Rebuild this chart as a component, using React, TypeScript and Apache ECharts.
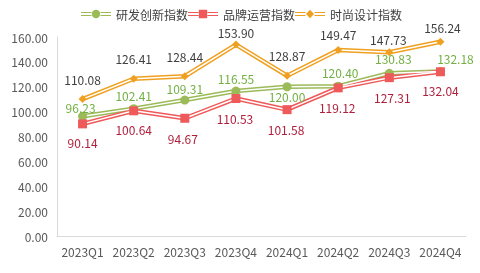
import React, { useEffect, useRef } from "react";
import * as echarts from "echarts";

const categories = ["2023Q1", "2023Q2", "2023Q3", "2023Q4", "2024Q1", "2024Q2", "2024Q3", "2024Q4"];
const rdIndex = [96.23, 102.41, 109.31, 116.55, 120.0, 120.4, 130.83, 132.18];
const brandIndex = [90.14, 100.64, 94.67, 110.53, 101.58, 119.12, 127.31, 132.04];
const fashionIndex = [110.08, 126.41, 128.44, 153.9, 128.87, 149.47, 147.73, 156.24];
const seriesNames = ["研发创新指数", "品牌运营指数", "时尚设计指数"];

// label placement per point (position, distance, horizontal offset)
const rdLabelPos = ["top", "top", "top", "top", "bottom", "top", "top", "top"];
const rdLabelDist = [-2, 2.5, 1, 2, -1, 3, 4, 2.5];
const rdLabelDx = [-2, 0, 0, 0, 0, 2, 4, 15];
const brandLabelDist = [8.5, 8.5, 9.5, 9.5, 9.5, 9, 9, 8.5];
const brandLabelDx = [0, 0, -2, -1, -1, -1, 3, 0];
const fashionLabelDist = [10, 10, 10, 2.5, 10, 6, 3, 4.5];
const fashionLabelDx = [0, 0, 0, 0, 0, 0, -1, 2];

const FONT = "'Noto Sans CJK SC', 'Noto Sans', sans-serif";

const BARS = "M0 2.6 H10.5 V3.6 H0 Z M0 5.4 H10.5 V6.4 H0 Z M19.5 2.6 H30 V3.6 H19.5 Z M19.5 5.4 H30 V6.4 H19.5 Z ";
const ICONS = [
  "path://" + BARS + "M10.8 4.5 A4.2 4.2 0 1 1 19.2 4.5 A4.2 4.2 0 1 1 10.8 4.5 Z M0 0 Z M30 9 Z",
  "path://" + BARS + "M10.8 0.3 H19.2 V8.7 H10.8 Z M0 0 Z M30 9 Z",
  "path://" + BARS + "M15 0.3 L19 4.5 L15 8.7 L11 4.5 Z M0 0 Z M30 9 Z",
];

export default function App() {
  const ref = useRef<HTMLDivElement>(null);
  useEffect(() => {
    if (!ref.current) return;
    const chart = echarts.init(ref.current, undefined, { renderer: "svg" });
    const defs = [
      { name: seriesNames[0], data: rdIndex, color: "#9BBB59", labelColor: "#72B043", symbol: "circle", size: 9, pos: rdLabelPos, dist: rdLabelDist, dx: rdLabelDx },
      { name: seriesNames[1], data: brandIndex, color: "#EE5A5A", labelColor: "#B0203C", symbol: "rect", size: 9, pos: brandIndex.map(() => "bottom"), dist: brandLabelDist, dx: brandLabelDx },
      { name: seriesNames[2], data: fashionIndex, color: "#F0A020", labelColor: "#404040", symbol: "diamond", size: 8, pos: fashionIndex.map(() => "top"), dist: fashionLabelDist, dx: fashionLabelDx },
    ];
    const series: any[] = [];
    defs.forEach((d, i) => {
      series.push({
        type: "line",
        name: "line" + i,
        data: d.data,
        symbol: "none",
        silent: true,
        z: 2,
        lineStyle: { color: d.color, width: 4.5 },
      });
      series.push({
        type: "line",
        name: "white" + i,
        data: d.data,
        symbol: "none",
        silent: true,
        z: 3,
        lineStyle: { color: "#ffffff", width: 1.5 },
      });
      series.push({
        type: "line",
        name: d.name,
        data: d.data.map((v, j) => ({
          value: v,
          label: { position: d.pos[j], distance: d.dist[j], offset: [d.dx[j], 0] },
        })),
        symbol: d.symbol,
        symbolSize: d.size,
        z: 4,
        itemStyle: { color: d.color },
        lineStyle: { width: 0, color: d.color },
        label: {
          show: true,
          color: d.labelColor,
          fontSize: 12,
          fontFamily: FONT,
          formatter: (p: any) => Number(p.value).toFixed(2),
        },
      });
    });
    chart.setOption({
      animation: false,
      textStyle: { fontFamily: FONT },
      legend: {
        top: 8,
        left: 81,
        padding: 0,
        itemWidth: 30,
        itemHeight: 9,
        itemGap: 0,
        symbolKeepAspect: false,
        textStyle: { color: "#404040", fontSize: 12, fontFamily: FONT },
        data: defs.map((d, i) => ({
          name: d.name,
          icon: ICONS[i],
          itemStyle: { color: d.color },
        })),
      },
      grid: { left: 57, right: 14, top: 37, bottom: 37 },
      xAxis: {
        type: "category",
        data: categories,
        boundaryGap: true,
        axisLine: { lineStyle: { color: "#D9D9D9" } },
        axisTick: { show: false },
        axisLabel: { color: "#595959", fontSize: 12, fontFamily: FONT, margin: 9, interval: 0 },
      },
      yAxis: {
        type: "value",
        min: 0,
        max: 160,
        interval: 20,
        axisLine: { show: true, lineStyle: { color: "#D9D9D9" } },
        axisTick: { show: false },
        splitLine: { show: false },
        axisLabel: {
          color: "#595959",
          fontSize: 12,
          fontFamily: FONT,
          margin: 9,
          formatter: (v: number) => v.toFixed(2),
        },
      },
      series,
    });
    return () => chart.dispose();
  }, []);
  return <div ref={ref} style={{ position: "fixed", left: 0, top: 0, width: 480, height: 273 }} />;
}
